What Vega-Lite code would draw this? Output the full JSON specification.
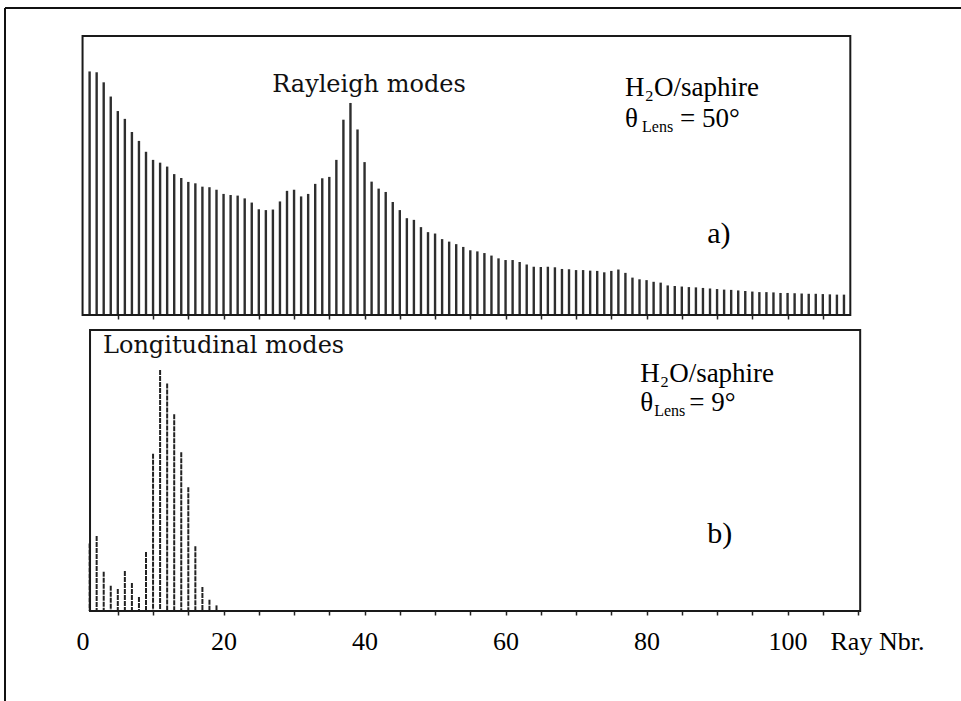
{
  "$schema": "https://vega.github.io/schema/vega-lite/v6.json",
  "width": 956,
  "height": 693,
  "autosize": "none",
  "padding": {"left": 5, "top": 8, "right": 0, "bottom": 0},
  "background": "white",
  "config": {"view": {"stroke": null}, "font": "Liberation Serif"},
  "datasets": {
    "rayleigh": [
      {"ray": 1, "intensity": 87.3}, {"ray": 2, "intensity": 87.0}, {"ray": 3, "intensity": 83.4}, {"ray": 4, "intensity": 78.3},
      {"ray": 5, "intensity": 73.1}, {"ray": 6, "intensity": 70.3}, {"ray": 7, "intensity": 65.6}, {"ray": 8, "intensity": 62.4},
      {"ray": 9, "intensity": 58.5}, {"ray": 10, "intensity": 55.6}, {"ray": 11, "intensity": 54.6}, {"ray": 12, "intensity": 53.2},
      {"ray": 13, "intensity": 50.5}, {"ray": 14, "intensity": 49.1}, {"ray": 15, "intensity": 47.7}, {"ray": 16, "intensity": 47.2},
      {"ray": 17, "intensity": 46.0}, {"ray": 18, "intensity": 45.8}, {"ray": 19, "intensity": 44.9}, {"ray": 20, "intensity": 43.4},
      {"ray": 21, "intensity": 43.0}, {"ray": 22, "intensity": 42.8}, {"ray": 23, "intensity": 41.8}, {"ray": 24, "intensity": 40.3},
      {"ray": 25, "intensity": 37.9}, {"ray": 26, "intensity": 37.6}, {"ray": 27, "intensity": 37.8}, {"ray": 28, "intensity": 40.7},
      {"ray": 29, "intensity": 44.5}, {"ray": 30, "intensity": 44.9}, {"ray": 31, "intensity": 42.5}, {"ray": 32, "intensity": 43.4},
      {"ray": 33, "intensity": 47.0}, {"ray": 34, "intensity": 49.0}, {"ray": 35, "intensity": 49.5}, {"ray": 36, "intensity": 55.6},
      {"ray": 37, "intensity": 70.0}, {"ray": 38, "intensity": 76.0}, {"ray": 39, "intensity": 66.5}, {"ray": 40, "intensity": 54.8},
      {"ray": 41, "intensity": 47.8}, {"ray": 42, "intensity": 45.3}, {"ray": 43, "intensity": 44.1}, {"ray": 44, "intensity": 40.5},
      {"ray": 45, "intensity": 37.6}, {"ray": 46, "intensity": 34.7}, {"ray": 47, "intensity": 34.1}, {"ray": 48, "intensity": 31.5},
      {"ray": 49, "intensity": 29.7}, {"ray": 50, "intensity": 29.2}, {"ray": 51, "intensity": 27.2}, {"ray": 52, "intensity": 26.3},
      {"ray": 53, "intensity": 25.4}, {"ray": 54, "intensity": 24.4}, {"ray": 55, "intensity": 23.2}, {"ray": 56, "intensity": 22.8},
      {"ray": 57, "intensity": 22.2}, {"ray": 58, "intensity": 21.3}, {"ray": 59, "intensity": 20.3}, {"ray": 60, "intensity": 19.7},
      {"ray": 61, "intensity": 19.7}, {"ray": 62, "intensity": 19.0}, {"ray": 63, "intensity": 18.1}, {"ray": 64, "intensity": 17.3},
      {"ray": 65, "intensity": 17.2}, {"ray": 66, "intensity": 17.3}, {"ray": 67, "intensity": 17.1}, {"ray": 68, "intensity": 16.5},
      {"ray": 69, "intensity": 16.4}, {"ray": 70, "intensity": 16.1}, {"ray": 71, "intensity": 16.1}, {"ray": 72, "intensity": 15.9},
      {"ray": 73, "intensity": 15.8}, {"ray": 74, "intensity": 15.3}, {"ray": 75, "intensity": 15.8}, {"ray": 76, "intensity": 16.3},
      {"ray": 77, "intensity": 15.1}, {"ray": 78, "intensity": 13.4}, {"ray": 79, "intensity": 12.8}, {"ray": 80, "intensity": 12.5},
      {"ray": 81, "intensity": 11.9}, {"ray": 82, "intensity": 11.6}, {"ray": 83, "intensity": 10.6}, {"ray": 84, "intensity": 10.4},
      {"ray": 85, "intensity": 10.2}, {"ray": 86, "intensity": 10.0}, {"ray": 87, "intensity": 9.9}, {"ray": 88, "intensity": 9.7},
      {"ray": 89, "intensity": 9.5}, {"ray": 90, "intensity": 9.3}, {"ray": 91, "intensity": 9.1}, {"ray": 92, "intensity": 9.0},
      {"ray": 93, "intensity": 8.8}, {"ray": 94, "intensity": 8.6}, {"ray": 95, "intensity": 8.4}, {"ray": 96, "intensity": 8.2},
      {"ray": 97, "intensity": 8.2}, {"ray": 98, "intensity": 8.1}, {"ray": 99, "intensity": 7.9}, {"ray": 100, "intensity": 7.9},
      {"ray": 101, "intensity": 7.8}, {"ray": 102, "intensity": 7.7}, {"ray": 103, "intensity": 7.6}, {"ray": 104, "intensity": 7.6},
      {"ray": 105, "intensity": 7.5}, {"ray": 106, "intensity": 7.4}, {"ray": 107, "intensity": 7.3}, {"ray": 108, "intensity": 7.3}
    ],
    "longitudinal": [
      {"ray": 1, "intensity": 24.0}, {"ray": 2, "intensity": 26.7}, {"ray": 3, "intensity": 14.0}, {"ray": 4, "intensity": 9.0},
      {"ray": 5, "intensity": 7.8}, {"ray": 6, "intensity": 14.2}, {"ray": 7, "intensity": 10.0}, {"ray": 8, "intensity": 5.0},
      {"ray": 9, "intensity": 21.0}, {"ray": 10, "intensity": 56.0}, {"ray": 11, "intensity": 85.8}, {"ray": 12, "intensity": 81.0},
      {"ray": 13, "intensity": 70.0}, {"ray": 14, "intensity": 56.5}, {"ray": 15, "intensity": 44.0}, {"ray": 16, "intensity": 23.0},
      {"ray": 17, "intensity": 8.5}, {"ray": 18, "intensity": 4.0}, {"ray": 19, "intensity": 2.0}
    ]
  },
  "layer": [
    {
      "description": "outer frame, left edge",
      "data": {"values": [{}]},
      "mark": {"type": "rule", "color": "#111111", "strokeWidth": 2},
      "encoding": {
        "x": {"datum": -11, "type": "quantitative", "scale": {"domain": [-11, 124.6], "nice": false, "zero": false}, "axis": null},
        "y": {"datum": 0, "type": "quantitative", "scale": {"domain": [0, 1], "nice": false}, "axis": null},
        "y2": {"datum": 1}
      }
    },
    {
      "description": "outer frame, top edge",
      "data": {"values": [{}]},
      "mark": {"type": "rule", "color": "#111111", "strokeWidth": 2},
      "encoding": {
        "x": {"datum": -11, "type": "quantitative", "scale": {"domain": [-11, 124.6], "nice": false, "zero": false}, "axis": null},
        "x2": {"datum": 124.6},
        "y": {"datum": 1, "type": "quantitative", "scale": {"domain": [0, 1], "nice": false}, "axis": null}
      }
    },
    {
      "description": "a) Rayleigh modes",
      "data": {"name": "rayleigh"},
      "mark": {"type": "rule", "color": "#2e2e2e", "strokeWidth": 2.4},
      "encoding": {
        "x": {
          "field": "ray", "type": "quantitative",
          "scale": {"domain": [-11, 124.6], "nice": false, "zero": false},
          "axis": {
            "orient": "bottom", "offset": -386, "title": null,
            "values": [5, 10, 15, 20, 25, 30, 35, 40, 45, 50, 55, 60, 65, 70, 75, 80, 85, 90, 95, 100, 105],
            "domain": false, "grid": false, "labels": false,
            "tickSize": 4, "tickWidth": 1.5, "tickColor": "#222222", "zindex": 2
          }
        },
        "y": {"field": "intensity", "type": "quantitative", "scale": {"domain": [0, 100], "range": [307, 28]}, "axis": null},
        "y2": {"datum": 0}
      }
    },
    {
      "data": {"values": [{}]},
      "mark": {"type": "rect", "fill": "transparent", "stroke": "#1a1a1a", "strokeWidth": 2},
      "encoding": {
        "x": {"datum": 0, "type": "quantitative", "scale": {"domain": [-11, 124.6], "nice": false, "zero": false}, "axis": null},
        "x2": {"datum": 108.9},
        "y": {"datum": 0, "type": "quantitative", "scale": {"domain": [0, 100], "range": [307, 28]}, "axis": null},
        "y2": {"datum": 100}
      }
    },
    {
      "data": {"values": [{}]},
      "mark": {"type": "text", "text": "Rayleigh modes", "font": "DejaVu Serif", "fontSize": 24, "align": "left", "baseline": "alphabetic", "color": "#111111"},
      "encoding": {
        "x": {"datum": 26.9, "type": "quantitative", "scale": {"domain": [-11, 124.6], "nice": false, "zero": false}, "axis": null},
        "y": {"datum": 79.9, "type": "quantitative", "scale": {"domain": [0, 100], "range": [307, 28]}, "axis": null}
      }
    },
    {
      "data": {"values": [{}]},
      "mark": {"type": "text", "text": "H₂O/saphire", "font": "Liberation Serif", "fontSize": 27, "align": "left", "baseline": "alphabetic", "color": "#000000"},
      "encoding": {
        "x": {"datum": 76.95, "type": "quantitative", "scale": {"domain": [-11, 124.6], "nice": false, "zero": false}, "axis": null},
        "y": {"datum": 78.5, "type": "quantitative", "scale": {"domain": [0, 100], "range": [307, 28]}, "axis": null}
      }
    },
    {
      "data": {"values": [{}]},
      "mark": {"type": "text", "text": "θ", "font": "Liberation Serif", "fontSize": 27, "align": "left", "baseline": "alphabetic", "color": "#000000"},
      "encoding": {
        "x": {"datum": 76.95, "type": "quantitative", "scale": {"domain": [-11, 124.6], "nice": false, "zero": false}, "axis": null},
        "y": {"datum": 67.4, "type": "quantitative", "scale": {"domain": [0, 100], "range": [307, 28]}, "axis": null}
      }
    },
    {
      "data": {"values": [{}]},
      "mark": {"type": "text", "text": "Lens", "font": "Liberation Serif", "fontSize": 16, "align": "left", "baseline": "alphabetic", "color": "#000000", "dx": 17, "dy": 5},
      "encoding": {
        "x": {"datum": 76.95, "type": "quantitative", "scale": {"domain": [-11, 124.6], "nice": false, "zero": false}, "axis": null},
        "y": {"datum": 67.4, "type": "quantitative", "scale": {"domain": [0, 100], "range": [307, 28]}, "axis": null}
      }
    },
    {
      "data": {"values": [{}]},
      "mark": {"type": "text", "text": "= 50°", "font": "Liberation Serif", "fontSize": 27, "align": "left", "baseline": "alphabetic", "color": "#000000", "dx": 55},
      "encoding": {
        "x": {"datum": 76.95, "type": "quantitative", "scale": {"domain": [-11, 124.6], "nice": false, "zero": false}, "axis": null},
        "y": {"datum": 67.4, "type": "quantitative", "scale": {"domain": [0, 100], "range": [307, 28]}, "axis": null}
      }
    },
    {
      "data": {"values": [{}]},
      "mark": {"type": "text", "text": "a)", "font": "Liberation Serif", "fontSize": 30, "align": "left", "baseline": "alphabetic", "color": "#000000"},
      "encoding": {
        "x": {"datum": 88.6, "type": "quantitative", "scale": {"domain": [-11, 124.6], "nice": false, "zero": false}, "axis": null},
        "y": {"datum": 25.8, "type": "quantitative", "scale": {"domain": [0, 100], "range": [307, 28]}, "axis": null}
      }
    },
    {
      "description": "b) longitudinal modes",
      "data": {"name": "longitudinal"},
      "mark": {"type": "rule", "color": "#222222", "strokeWidth": 2, "strokeDash": [5, 1]},
      "encoding": {
        "x": {
          "field": "ray", "type": "quantitative",
          "scale": {"domain": [-11, 124.6], "nice": false, "zero": false},
          "axis": {
            "orient": "bottom", "offset": -90,
            "values": [0, 5, 10, 15, 20, 25, 30, 35, 40, 45, 50, 55, 60, 65, 70, 75, 80, 85, 90, 95, 100, 105, 110],
            "domain": false, "grid": false,
            "tickSize": 4, "tickWidth": 1.5, "tickColor": "#222222",
            "tickOpacity": {"condition": {"test": "datum.value === 0", "value": 0}, "value": 1},
            "labelExpr": "datum.value % 20 === 0 && datum.value <= 100 ? datum.label : ''",
            "labelOverlap": false, "labelFlush": false,
            "labelFont": "Liberation Serif", "labelFontSize": 26, "labelColor": "#000000",
            "labelBaseline": "alphabetic", "labelPadding": 34,
            "title": "Ray Nbr.", "titleFont": "Liberation Serif", "titleFontSize": 26, "titleFontWeight": "normal",
            "titleColor": "#000000", "titleAlign": "left", "titleBaseline": "alphabetic",
            "titleX": 825, "titleY": 38, "zindex": 2
          }
        },
        "y": {"field": "intensity", "type": "quantitative", "scale": {"domain": [0, 100], "range": [603, 322]}, "axis": null},
        "y2": {"datum": 0}
      }
    },
    {
      "data": {"values": [{}]},
      "mark": {"type": "rect", "fill": "transparent", "stroke": "#1a1a1a", "strokeWidth": 2},
      "encoding": {
        "x": {"datum": 1.06, "type": "quantitative", "scale": {"domain": [-11, 124.6], "nice": false, "zero": false}, "axis": null},
        "x2": {"datum": 110.3},
        "y": {"datum": 0, "type": "quantitative", "scale": {"domain": [0, 100], "range": [603, 322]}, "axis": null},
        "y2": {"datum": 100}
      }
    },
    {
      "data": {"values": [{}]},
      "mark": {"type": "text", "text": "Longitudinal modes", "font": "DejaVu Serif", "fontSize": 24, "align": "left", "baseline": "alphabetic", "color": "#111111"},
      "encoding": {
        "x": {"datum": 2.9, "type": "quantitative", "scale": {"domain": [-11, 124.6], "nice": false, "zero": false}, "axis": null},
        "y": {"datum": 91.8, "type": "quantitative", "scale": {"domain": [0, 100], "range": [603, 322]}, "axis": null}
      }
    },
    {
      "data": {"values": [{}]},
      "mark": {"type": "text", "text": "H₂O/saphire", "font": "Liberation Serif", "fontSize": 27, "align": "left", "baseline": "alphabetic", "color": "#000000"},
      "encoding": {
        "x": {"datum": 79.1, "type": "quantitative", "scale": {"domain": [-11, 124.6], "nice": false, "zero": false}, "axis": null},
        "y": {"datum": 81.5, "type": "quantitative", "scale": {"domain": [0, 100], "range": [603, 322]}, "axis": null}
      }
    },
    {
      "data": {"values": [{}]},
      "mark": {"type": "text", "text": "θ", "font": "Liberation Serif", "fontSize": 27, "align": "left", "baseline": "alphabetic", "color": "#000000"},
      "encoding": {
        "x": {"datum": 79.1, "type": "quantitative", "scale": {"domain": [-11, 124.6], "nice": false, "zero": false}, "axis": null},
        "y": {"datum": 71.2, "type": "quantitative", "scale": {"domain": [0, 100], "range": [603, 322]}, "axis": null}
      }
    },
    {
      "data": {"values": [{}]},
      "mark": {"type": "text", "text": "Lens", "font": "Liberation Serif", "fontSize": 16, "align": "left", "baseline": "alphabetic", "color": "#000000", "dx": 14, "dy": 5},
      "encoding": {
        "x": {"datum": 79.1, "type": "quantitative", "scale": {"domain": [-11, 124.6], "nice": false, "zero": false}, "axis": null},
        "y": {"datum": 71.2, "type": "quantitative", "scale": {"domain": [0, 100], "range": [603, 322]}, "axis": null}
      }
    },
    {
      "data": {"values": [{}]},
      "mark": {"type": "text", "text": "= 9°", "font": "Liberation Serif", "fontSize": 27, "align": "left", "baseline": "alphabetic", "color": "#000000", "dx": 49},
      "encoding": {
        "x": {"datum": 79.1, "type": "quantitative", "scale": {"domain": [-11, 124.6], "nice": false, "zero": false}, "axis": null},
        "y": {"datum": 71.2, "type": "quantitative", "scale": {"domain": [0, 100], "range": [603, 322]}, "axis": null}
      }
    },
    {
      "data": {"values": [{}]},
      "mark": {"type": "text", "text": "b)", "font": "Liberation Serif", "fontSize": 30, "align": "left", "baseline": "alphabetic", "color": "#000000"},
      "encoding": {
        "x": {"datum": 88.6, "type": "quantitative", "scale": {"domain": [-11, 124.6], "nice": false, "zero": false}, "axis": null},
        "y": {"datum": 24.2, "type": "quantitative", "scale": {"domain": [0, 100], "range": [603, 322]}, "axis": null}
      }
    }
  ],
  "resolve": {
    "scale": {"x": "independent", "y": "independent"},
    "axis": {"x": "independent", "y": "independent"}
  }
}
